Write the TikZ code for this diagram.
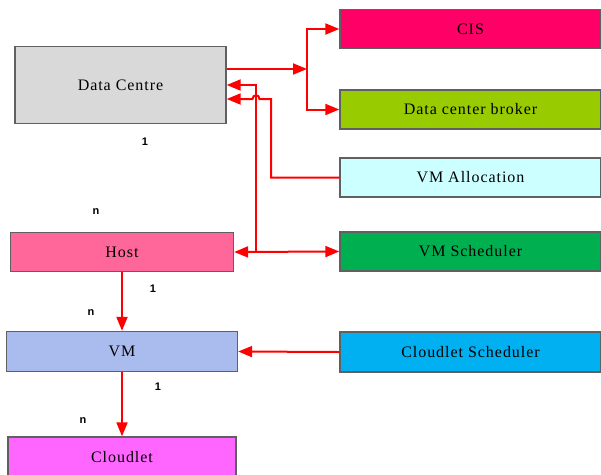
\documentclass[tikz,border=0pt]{standalone}
\usepackage{fontspec}
\setmainfont{Liberation Serif}[LetterSpace=6]
\newfontfamily\labfont{Liberation Sans}
\usetikzlibrary{arrows.meta,calc}
\definecolor{cdc}{HTML}{D9D9D9}
\definecolor{ccis}{HTML}{FF0066}
\definecolor{cbrk}{HTML}{99CC00}
\definecolor{cvma}{HTML}{CCFFFF}
\definecolor{cvms}{HTML}{00B050}
\definecolor{chost}{HTML}{FF6699}
\definecolor{cvm}{HTML}{AABBEE}
\definecolor{ccs}{HTML}{00B0F0}
\definecolor{ccl}{HTML}{FF66FF}
\definecolor{cborder}{HTML}{606060}
\tikzset{
  box/.style={draw=cborder, line width=1.4pt, inner sep=0pt, font=\fontsize{16}{18}\selectfont},
  conn/.style={draw=red, line width=2pt},
  tip/.style={-{Triangle[length=14pt,width=11pt]}},
  both/.style={{Triangle[length=14pt,width=11pt]}-{Triangle[length=14pt,width=11pt]}},
  card/.style={font=\labfont\bfseries\fontsize{11}{13}\selectfont, inner sep=0pt}
}
\begin{document}
\begin{tikzpicture}[x=1pt,y=-1pt]
\useasboundingbox (0,0) rectangle (601,474);
% boxes
\node[box, fill=cdc, minimum width=211pt, minimum height=77pt] (dc) at (120.5,85) {Data Centre};
\node[box, fill=ccis, minimum width=261pt, minimum height=39pt] (cis) at (470.5,29) {CIS};
\node[box, fill=cbrk, minimum width=261pt, minimum height=39pt] (brk) at (470.5,109.5) {Data center broker};
\node[box, fill=cvma, minimum width=261pt, minimum height=39pt] (vma) at (470.5,177.5) {VM Allocation};
\node[box, fill=cvms, minimum width=261pt, minimum height=39pt] (vms) at (470.5,251.5) {VM Scheduler};
\node[box, fill=chost, minimum width=223pt, minimum height=39.5pt] (host) at (122,252) {Host};
\node[box, fill=cvm, minimum width=231pt, minimum height=40pt] (vm) at (122,351.5) {VM};
\node[box, fill=ccs, minimum width=261pt, minimum height=40pt] (cs) at (470.5,352) {Cloudlet Scheduler};
\node[box, fill=ccl, minimum width=228pt, minimum height=40pt] (cl) at (122,457) {Cloudlet};
% junction coordinates
\coordinate (j1) at (307,69);
\coordinate (j2) at (271,99);
\coordinate (j3) at (256,252);
% Data Centre to CIS / broker
\draw[conn, tip] (dc.east |- j1) -- (j1);
\draw[conn, tip] (j1) |- (cis.west);
\draw[conn, tip] (j1) |- (brk.west);
% VM Allocation to Data Centre with hop
\draw[conn, tip] (vma.west) -| (j2) -- (259.5,99) .. controls (259.5,94) and (252.5,94) .. (252.5,99) -- (dc.east |- j2);
% Host <-> VM Scheduler and up to Data Centre
\draw[conn, both] (host.east) -- (vms.west);
\draw[conn, tip] (j3) |- (dc.east);
% vertical chain
\draw[conn, tip] (host.south) -- (vm.north);
\draw[conn, tip] (vm.south) -- (cl.north);
\draw[conn, tip] (cs.west) -- (vm.east);
% cardinalities
\node[card] (l1) at (145,142) {1};
\node[card] (l2) at (96,212) {n};
\node[card] (l3) at (153,289) {1};
\node[card] (l4) at (91,313) {n};
\node[card] (l5) at (158,387) {1};
\node[card] (l6) at (83,421) {n};
\end{tikzpicture}
\end{document}
